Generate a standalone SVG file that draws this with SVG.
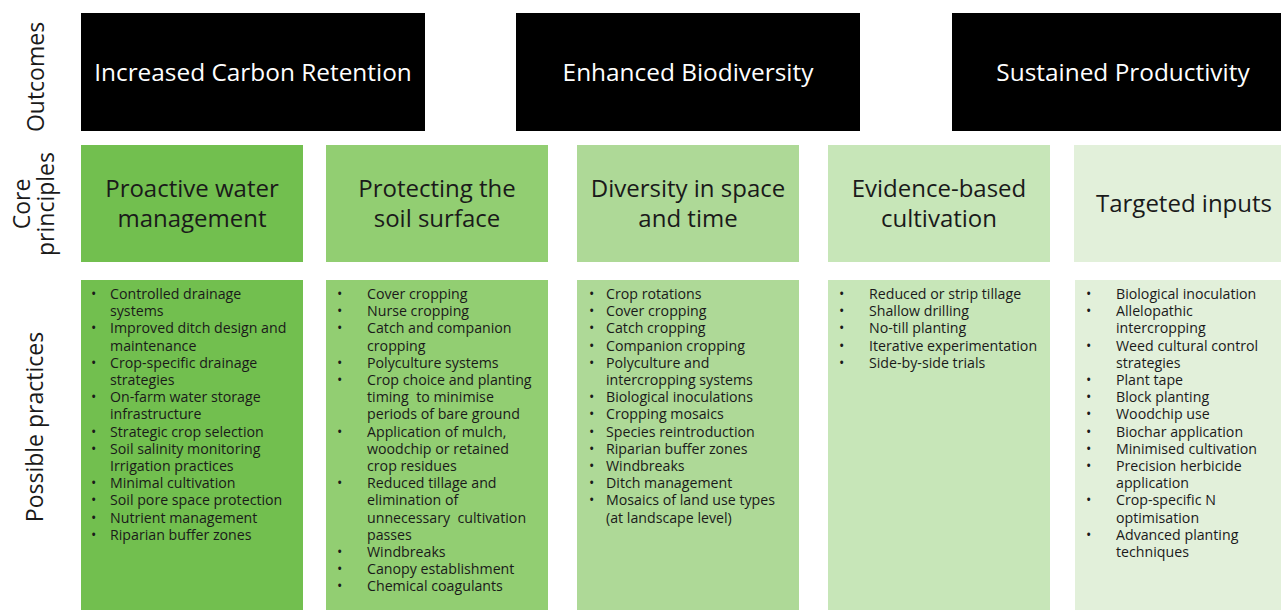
<svg xmlns="http://www.w3.org/2000/svg" width="1281" height="610" viewBox="0 0 1281 610">
<style>
text{font-family:"Open Sans","Noto Sans","DejaVu Sans",sans-serif;}
.out{fill:#000;}
.ot{fill:#fff;font-size:24.4px;text-anchor:middle;}
.cp{font-size:24px;fill:#1a1a1a;text-anchor:middle;}
.lab{font-size:23px;fill:#1a1a1a;text-anchor:middle;}
.pr{font-size:14.2px;fill:#1a1a1a;}
.c1{fill:#72BF4F;}
.c2{fill:#92CE72;}
.c3{fill:#AED997;}
.c4{fill:#C7E6B8;}
.c5{fill:#E2F0DA;}
</style>
<rect width="1281" height="610" fill="#fff"/>
<g id="labels">
<text class="lab" transform="translate(44,77) rotate(-90)">Outcomes</text>
<text class="lab" transform="translate(30,204) rotate(-90)">Core</text>
<text class="lab" transform="translate(54,204) rotate(-90)">principles</text>
<text class="lab" transform="translate(43,427) rotate(-90)">Possible practices</text>
</g>
<g id="outcome-carbon"><rect class="out" x="81" y="13" width="344" height="118"/><text class="ot" x="253" y="81">Increased Carbon Retention</text></g>
<g id="outcome-biodiversity"><rect class="out" x="516" y="13" width="344" height="118"/><text class="ot" x="688" y="81">Enhanced Biodiversity</text></g>
<g id="outcome-productivity"><rect class="out" x="952" y="13" width="329" height="118"/><text class="ot" x="1123" y="81">Sustained Productivity</text></g>

<g id="principle-water"><rect class="c1" x="81" y="145" width="222" height="117"/><text class="cp" x="192" y="197">Proactive water</text><text class="cp" x="192" y="227">management</text></g>
<g id="principle-soil"><rect class="c2" x="326" y="145" width="222" height="117"/><text class="cp" x="437" y="197">Protecting the</text><text class="cp" x="437" y="227">soil surface</text></g>
<g id="principle-diversity"><rect class="c3" x="577" y="145" width="222" height="117"/><text class="cp" x="688" y="197">Diversity in space</text><text class="cp" x="688" y="227">and time</text></g>
<g id="principle-evidence"><rect class="c4" x="828" y="145" width="222" height="117"/><text class="cp" x="939" y="197">Evidence-based</text><text class="cp" x="939" y="227">cultivation</text></g>
<g id="principle-inputs"><rect class="c5" x="1074" y="145" width="207" height="117"/><text class="cp" x="1184" y="212">Targeted inputs</text></g>

<g id="practices-water"><rect class="c1" x="81" y="280" width="222" height="330"/>
<g class="pr">
<text x="91" y="299">•</text><text x="110" y="299">Controlled drainage</text>
<text x="110" y="316.2">systems</text>
<text x="91" y="333.4">•</text><text x="110" y="333.4">Improved ditch design and</text>
<text x="110" y="350.6">maintenance</text>
<text x="91" y="367.8">•</text><text x="110" y="367.8">Crop-specific drainage</text>
<text x="110" y="385">strategies</text>
<text x="91" y="402.2">•</text><text x="110" y="402.2">On-farm water storage</text>
<text x="110" y="419.4">infrastructure</text>
<text x="91" y="436.6">•</text><text x="110" y="436.6">Strategic crop selection</text>
<text x="91" y="453.8">•</text><text x="110" y="453.8">Soil salinity monitoring</text>
<text x="110" y="471">Irrigation practices</text>
<text x="91" y="488.2">•</text><text x="110" y="488.2">Minimal cultivation</text>
<text x="91" y="505.4">•</text><text x="110" y="505.4">Soil pore space protection</text>
<text x="91" y="522.6">•</text><text x="110" y="522.6">Nutrient management</text>
<text x="91" y="539.8">•</text><text x="110" y="539.8">Riparian buffer zones</text>
</g></g>

<g id="practices-soil"><rect class="c2" x="326" y="280" width="222" height="330"/>
<g class="pr">
<text x="337" y="299">•</text><text x="367" y="299">Cover cropping</text>
<text x="337" y="316.2">•</text><text x="367" y="316.2">Nurse cropping</text>
<text x="337" y="333.4">•</text><text x="367" y="333.4">Catch and companion</text>
<text x="367" y="350.6">cropping</text>
<text x="337" y="367.8">•</text><text x="367" y="367.8">Polyculture systems</text>
<text x="337" y="385">•</text><text x="367" y="385">Crop choice and planting</text>
<text x="367" y="402.2" xml:space="preserve">timing  to minimise</text>
<text x="367" y="419.4">periods of bare ground</text>
<text x="337" y="436.6">•</text><text x="367" y="436.6">Application of mulch,</text>
<text x="367" y="453.8">woodchip or retained</text>
<text x="367" y="471">crop residues</text>
<text x="337" y="488.2">•</text><text x="367" y="488.2">Reduced tillage and</text>
<text x="367" y="505.4">elimination of</text>
<text x="367" y="522.6" xml:space="preserve">unnecessary  cultivation</text>
<text x="367" y="539.8">passes</text>
<text x="337" y="557">•</text><text x="367" y="557">Windbreaks</text>
<text x="337" y="574.2">•</text><text x="367" y="574.2">Canopy establishment</text>
<text x="337" y="591.4">•</text><text x="367" y="591.4">Chemical coagulants</text>
</g></g>

<g id="practices-diversity"><rect class="c3" x="577" y="280" width="222" height="330"/>
<g class="pr">
<text x="589" y="299">•</text><text x="606" y="299">Crop rotations</text>
<text x="589" y="316.2">•</text><text x="606" y="316.2">Cover cropping</text>
<text x="589" y="333.4">•</text><text x="606" y="333.4">Catch cropping</text>
<text x="589" y="350.6">•</text><text x="606" y="350.6">Companion cropping</text>
<text x="589" y="367.8">•</text><text x="606" y="367.8">Polyculture and</text>
<text x="606" y="385">intercropping systems</text>
<text x="589" y="402.2">•</text><text x="606" y="402.2">Biological inoculations</text>
<text x="589" y="419.4">•</text><text x="606" y="419.4">Cropping mosaics</text>
<text x="589" y="436.6">•</text><text x="606" y="436.6">Species reintroduction</text>
<text x="589" y="453.8">•</text><text x="606" y="453.8">Riparian buffer zones</text>
<text x="589" y="471">•</text><text x="606" y="471">Windbreaks</text>
<text x="589" y="488.2">•</text><text x="606" y="488.2">Ditch management</text>
<text x="589" y="505.4">•</text><text x="606" y="505.4">Mosaics of land use types</text>
<text x="606" y="522.6">(at landscape level)</text>
</g></g>

<g id="practices-evidence"><rect class="c4" x="828" y="280" width="222" height="330"/>
<g class="pr">
<text x="839" y="299">•</text><text x="869" y="299">Reduced or strip tillage</text>
<text x="839" y="316.2">•</text><text x="869" y="316.2">Shallow drilling</text>
<text x="839" y="333.4">•</text><text x="869" y="333.4">No-till planting</text>
<text x="839" y="350.6">•</text><text x="869" y="350.6">Iterative experimentation</text>
<text x="839" y="367.8">•</text><text x="869" y="367.8">Side-by-side trials</text>
</g></g>

<g id="practices-inputs"><rect class="c5" x="1075" y="280" width="206" height="330"/>
<g class="pr">
<text x="1086" y="299">•</text><text x="1116" y="299">Biological inoculation</text>
<text x="1086" y="316.2">•</text><text x="1116" y="316.2">Allelopathic</text>
<text x="1116" y="333.4">intercropping</text>
<text x="1086" y="350.6">•</text><text x="1116" y="350.6">Weed cultural control</text>
<text x="1116" y="367.8">strategies</text>
<text x="1086" y="385">•</text><text x="1116" y="385">Plant tape</text>
<text x="1086" y="402.2">•</text><text x="1116" y="402.2">Block planting</text>
<text x="1086" y="419.4">•</text><text x="1116" y="419.4">Woodchip use</text>
<text x="1086" y="436.6">•</text><text x="1116" y="436.6">Biochar application</text>
<text x="1086" y="453.8">•</text><text x="1116" y="453.8">Minimised cultivation</text>
<text x="1086" y="471">•</text><text x="1116" y="471">Precision herbicide</text>
<text x="1116" y="488.2">application</text>
<text x="1086" y="505.4">•</text><text x="1116" y="505.4">Crop-specific N</text>
<text x="1116" y="522.6">optimisation</text>
<text x="1086" y="539.8">•</text><text x="1116" y="539.8">Advanced planting</text>
<text x="1116" y="557">techniques</text>
</g></g>
</svg>
